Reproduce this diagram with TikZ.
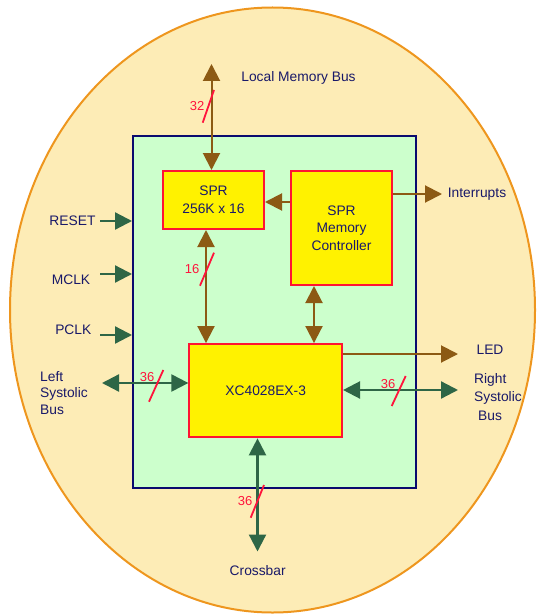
\documentclass[tikz,border=0pt]{standalone}
\usepackage{fontspec}
\setmainfont{Liberation Sans}
\usetikzlibrary{arrows.meta}
\definecolor{ellfill}{RGB}{253,236,182}
\definecolor{elldraw}{RGB}{238,150,30}
\definecolor{innerfill}{RGB}{204,255,204}
\definecolor{navy}{RGB}{10,10,110}
\definecolor{boxred}{RGB}{255,20,50}
\definecolor{brn}{RGB}{140,90,20}
\definecolor{grn}{RGB}{46,102,70}
\definecolor{txt}{RGB}{25,25,105}
\definecolor{slashred}{RGB}{255,20,60}
\begin{document}
\begin{tikzpicture}[x=1pt,y=-1pt,
  font=\fontsize{13.8}{17.5}\selectfont,
  bt/.tip={Triangle[length=17pt,width=17pt]},
  box/.style={draw=boxred, fill=yellow, line width=2pt, text=txt, align=center, inner sep=0pt},
  lbl/.style={text=txt, inner sep=0pt},
  num/.style={text=slashred, inner sep=0pt, font=\fontsize{13}{15}\selectfont},
  slash/.style={draw=slashred, line width=1.8pt},
  brarrow/.style={draw=brn, line width=2pt},
  grarrow/.style={draw=grn, line width=2.3pt},
]
\useasboundingbox (0,0) rectangle (536,615);
\draw[draw=elldraw, fill=ellfill, line width=2pt] (272.5,310) ellipse [x radius=262.5pt, y radius=302.5pt];
\node[draw=navy, fill=innerfill, line width=2pt, minimum width=283pt, minimum height=352.5pt, inner sep=0pt] (board) at (274.5,311.75) {};

\node[box, minimum width=101pt, minimum height=58pt, font=\fontsize{13.8}{18}\selectfont] (spr) at (213.5,200) {SPR\\256K x 16};
\node[box, minimum width=101.5pt, minimum height=114pt] (ctrl) at (341.5,228) {SPR\\Memory\\Controller};
\node[box, minimum width=152.7pt, minimum height=93.3pt] (xc) at (265.7,390.7) {XC4028EX-3};

% brown arrows
\coordinate (lmbtip) at (211.5,64);
\draw[brarrow, bt-bt] (lmbtip) -- (lmbtip |- spr.north);
\draw[brarrow, -bt] (ctrl.west |- 0,202) -- (spr.east |- 0,202);
\coordinate (inttip) at (442,194);
\draw[brarrow, -bt] (ctrl.east |- inttip) -- (inttip);
\coordinate (a16) at (206,0);
\draw[brarrow, bt-bt] (a16 |- spr.south) -- (a16 |- xc.north);
\coordinate (cx) at (314,0);
\draw[brarrow, bt-bt] (cx |- ctrl.south) -- (cx |- xc.north);
\coordinate (ledtip) at (458,354);
\draw[brarrow, -bt] (xc.east |- ledtip) -- (ledtip);

% green arrows
\coordinate (rstip) at (458,390);
\draw[grarrow, bt-bt] (xc.east |- rstip) -- (rstip);
\coordinate (lstip) at (102,383);
\draw[grarrow, bt-bt] (lstip) -- (lstip -| xc.west);
\coordinate (cbtip) at (257.5,551.5);
\draw[grarrow, bt-bt] (cbtip |- xc.south) -- (cbtip);
\coordinate (rsttail) at (100,221);
\draw[grarrow, -bt] (rsttail) -- (rsttail -| board.west);
\coordinate (mclktail) at (100,274);
\draw[grarrow, -bt] (mclktail) -- (mclktail -| board.west);
\coordinate (pclktail) at (100,335);
\draw[grarrow, -bt] (pclktail) -- (pclktail -| board.west);

% slashes
\draw[slash] (214,90) -- (202.7,122.7);
\draw[slash] (214,252.7) -- (200,285.7);
\draw[slash] (163.3,370) -- (149,401.7);
\draw[slash] (405.7,376) -- (391.7,406);
\draw[slash] (264,485) -- (250.7,517.7);

% numbers
\node[num] (n32) at (197,106) {32};
\node[num] (n16) at (192,269) {16};
\node[num] (n36l) at (147,377) {36};
\node[num] (n36r) at (388,384) {36};
\node[num] (n36b) at (245,501) {36};

% labels
\node[lbl] (lmb) at (298.5,78) {Local Memory Bus};
\node[lbl] (intr) at (477,194) {Interrupts};
\node[lbl] (led) at (490,350) {LED};
\node[lbl, align=left, anchor=west, font=\fontsize{13.8}{18.5}\selectfont] (rsb) at (474,397) {Right\\Systolic\\\hspace{4pt}Bus};
\node[lbl, align=left, anchor=west, font=\fontsize{13.8}{16.5}\selectfont] (lsb) at (40,393) {Left\\Systolic\\Bus};
\node[lbl] (rst) at (72.5,221) {RESET};
\node[lbl] (mclk) at (71,280) {MCLK};
\node[lbl] (pclk) at (73.3,330) {PCLK};
\node[lbl] (cbar) at (257.7,571) {Crossbar};
\end{tikzpicture}
\end{document}
